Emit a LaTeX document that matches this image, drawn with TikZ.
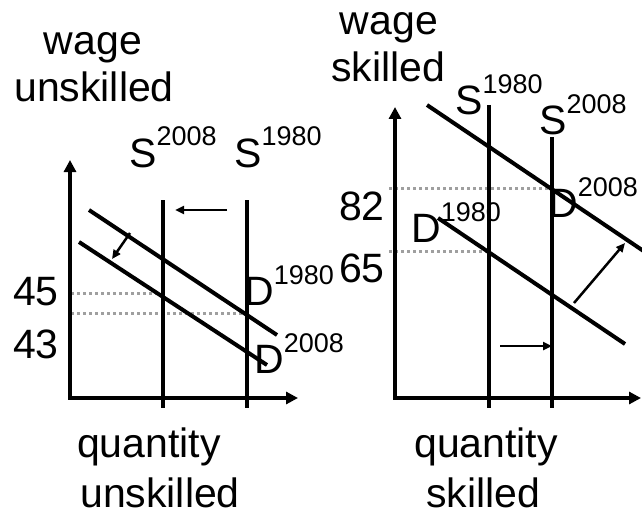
\documentclass[tikz,border=0pt]{standalone}
\usepackage{fontspec}
\setmainfont{Liberation Sans}
\usetikzlibrary{arrows.meta}
\newcommand\yr[1]{\raisebox{21pt}{\fontsize{27}{27}\selectfont #1}}

\begin{document}
\begin{tikzpicture}[x=1pt, y=-1pt,
  ax/.style={line width=4pt, {Triangle[length=12pt,width=12pt]}-{Triangle[length=12pt,width=12pt]}},
  ln/.style={line width=4pt},
  dot/.style={line width=3pt, gray!75, dash pattern=on 2.5pt off 3.5pt},
  sh/.style={line width=2.5pt, -{Triangle[length=9pt,width=8pt]}},
  lab/.style={font=\fontsize{41}{47}\selectfont, inner sep=0pt, anchor=base},
  num/.style={font=\fontsize{41}{45}\selectfont, inner sep=0pt, anchor=base east},
  cv/.style={font=\fontsize{41}{45}\selectfont, inner sep=0pt, anchor=base west}
]
  \useasboundingbox (0,0) rectangle (642,516);

  % unskilled market
  \coordinate (uO) at (70,398);
  \coordinate (uY) at (70,160);
  \coordinate (uX) at (298,398);
  \coordinate (uS08t) at (163,200);
  \coordinate (uS08b) at (163,408);
  \coordinate (uS80t) at (247,200);
  \coordinate (uS80b) at (247,408);
  \coordinate (uD80a) at (89,210);
  \coordinate (uD80b) at (277,335);
  \coordinate (uD08a) at (79,242);
  \coordinate (uD08b) at (267,365);
  \coordinate (uP45) at (163,293);
  \coordinate (uA45) at (71,293);
  \coordinate (uP43) at (247,313);
  \coordinate (uA43) at (71,313);
  \coordinate (uSa) at (227,210);
  \coordinate (uSb) at (175,210);
  \coordinate (uDa) at (130,233);
  \coordinate (uDb) at (112,259);

  \draw[dot] (uA45) -- (uP45);
  \draw[dot] (uA43) -- (uP43);
  \draw[ax] (uY) -- (uO) -- (uX);
  \draw[ln] (uS08t) -- (uS08b);
  \draw[ln] (uS80t) -- (uS80b);
  \draw[ln] (uD80a) -- (uD80b);
  \draw[ln] (uD08a) -- (uD08b);
  \draw[sh] (uSa) -- (uSb);
  \draw[sh] (uDa) -- (uDb);

  \node[lab] (uWage) at (93,55) {wage};
  \node[lab] (uWage2) at (94,102) {unskilled};
  \node[lab] (uQty) at (149,457) {quantity};
  \node[lab] (uQty2) at (160,507) {unskilled};
  \node[num] (n45) at (59,305) {45};
  \node[num] (n43) at (59,358) {43};
  \node[cv] (uLS08) at (129,167) {S\yr{2008}};
  \node[cv] (uLS80) at (234,167) {S\yr{1980}};
  \node[cv] (uLD80) at (244,305) {D\yr{1980}};
  \node[cv] (uLD08) at (254,373) {D\yr{2008}};

  % skilled market
  \coordinate (kO) at (395,398);
  \coordinate (kY) at (395,107);
  \coordinate (kX) at (641,398);
  \coordinate (kS80t) at (489,105);
  \coordinate (kS80b) at (489,408);
  \coordinate (kS08t) at (552,137);
  \coordinate (kS08b) at (552,408);
  \coordinate (kD08a) at (427,105);
  \coordinate (kD08b) at (645,252);
  \coordinate (kD80a) at (438,218);
  \coordinate (kD80b) at (625,344);
  \coordinate (kP82) at (552,188);
  \coordinate (kA82) at (389,188);
  \coordinate (kP65) at (489,251);
  \coordinate (kA65) at (389,251);
  \coordinate (kSa) at (500,346);
  \coordinate (kSb) at (552,346);
  \coordinate (kDa) at (574,303);
  \coordinate (kDb) at (625,243);

  \draw[dot] (kA82) -- (kP82);
  \draw[dot] (kA65) -- (kP65);
  \draw[ax] (kY) -- (kO) -- (kX);
  \draw[ln] (kS80t) -- (kS80b);
  \draw[ln] (kS08t) -- (kS08b);
  \draw[ln] (kD08a) -- (kD08b);
  \draw[ln] (kD80a) -- (kD80b);
  \draw[sh] (kSa) -- (kSb);
  \draw[sh] (kDa) -- (kDb);

  \node[lab] (kWage) at (389,35) {wage};
  \node[lab] (kWage2) at (388,82) {skilled};
  \node[lab] (kQty) at (486,457) {quantity};
  \node[lab] (kQty2) at (483,507) {skilled};
  \node[num] (n82) at (385,220) {82};
  \node[num] (n65) at (385,282) {65};
  \node[cv] (kLS80) at (455,115) {S\yr{1980}};
  \node[cv] (kLS08) at (539,135) {S\yr{2008}};
  \node[cv] (kLD08) at (548,217) {D\yr{2008}};
  \node[cv] (kLD80) at (411,242) {D\yr{1980}};
\end{tikzpicture}
\end{document}
